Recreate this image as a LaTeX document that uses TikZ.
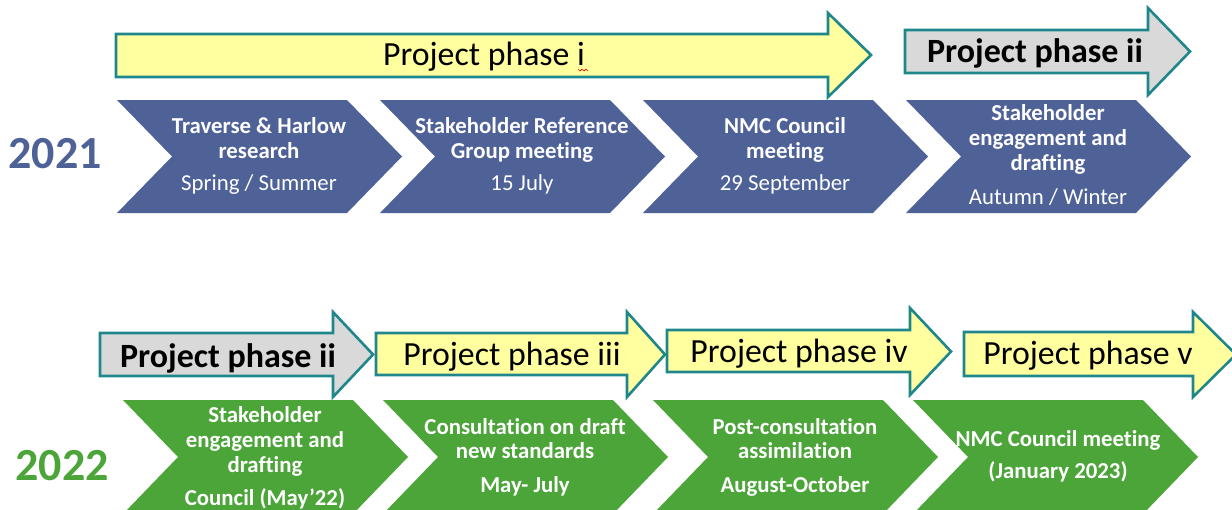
\documentclass[tikz,border=0pt]{standalone}
\usepackage{fontspec}
\setmainfont{Carlito}[Ligatures=NoCommon]
\definecolor{tealb}{RGB}{31,135,140}
\definecolor{yelf}{RGB}{255,255,160}
\definecolor{grayf}{RGB}{217,217,217}
\definecolor{blueC}{RGB}{79,98,152}
\definecolor{greenC}{RGB}{76,165,57}
\newcommand{\mychev}[4]{\fill[#4] (#1,#2) -- (#1+230,#2) -- (#1+285,{(#2+#3)/2}) -- (#1+230,#3) -- (#1,#3) -- (#1+55,{(#2+#3)/2}) -- cycle;}
\newcommand{\myarrow}[8]{\draw[phasebox, fill=#8] (#1,#2) -- (#4,#2) -- (#4,#5) -- (#7,{(#5+#6)/2}) -- (#4,#6) -- (#4,#3) -- (#1,#3) -- cycle;}
\begin{document}
\begin{tikzpicture}[x=1pt,y=-1pt,
  phasebox/.style={draw=tealb, line width=2.6pt, line join=miter},
  ctext/.style={text=white, font=\fontsize{22.8}{26}\selectfont\bfseries, anchor=base, inner sep=0pt},
  cdate/.style={text=white, font=\fontsize{22.8}{26}\selectfont, anchor=base, inner sep=0pt},
  ptext/.style={font=\fontsize{33.8}{40}\selectfont, anchor=base, inner sep=0pt},
  pbold/.style={font=\fontsize{34}{40}\selectfont\bfseries, anchor=base, inner sep=0pt},
  yeartext/.style={font=\fontsize{46}{50}\selectfont\bfseries, anchor=base, inner sep=0pt}
]
\useasboundingbox (0,0) rectangle (1232,509);
% ---------- 2021 row ----------
\myarrow{116}{34}{77}{828}{13}{97}{871}{yelf}
\myarrow{905}{30}{73}{1148}{8}{95}{1190}{grayf}
\node[ptext] (p1) at (484,65) {Project phase i};
\draw[red, line width=0.7pt] (578,69) -- (580,71) -- (582,69) -- (584,71) -- (586,69) -- (588,71);
\node[pbold] (p2a) at (1035,62) {Project phase ii};

\mychev{117}{100}{213}{blueC}
\mychev{380}{100}{213}{blueC}
\mychev{643}{100}{213}{blueC}
\mychev{906}{100}{213}{blueC}

\node[yeartext, text=blueC] (y21) at (55,168) {2021};

\node[ctext] (c1a) at (259,133) {Traverse \& Harlow};
\node[ctext] (c1b) at (259,158) {research};
\node[cdate] (c1c) at (259,190) {Spring / Summer};

\node[ctext] (c2a) at (522,133) {Stakeholder Reference};
\node[ctext] (c2b) at (522,158) {Group meeting};
\node[cdate] (c2c) at (522,190) {15 July};

\node[ctext] (c3a) at (785,133) {NMC Council};
\node[ctext] (c3b) at (785,158) {meeting};
\node[cdate] (c3c) at (785,190) {29 September};

\node[ctext] (c4a) at (1048,120) {Stakeholder};
\node[ctext] (c4b) at (1048,145) {engagement and};
\node[ctext] (c4c) at (1048,170) {drafting};
\node[cdate] (c4d) at (1048,204) {Autumn / Winter};

% ---------- 2022 row ----------
\myarrow{100}{333}{376}{333}{312}{397}{373}{grayf}
\myarrow{376}{333}{375}{627}{312}{397}{665}{yelf}
\myarrow{667}{330}{372}{910}{308}{395}{951}{yelf}
\myarrow{964}{332}{376}{1193}{312}{397}{1236}{yelf}
\node[pbold] (p2b) at (228,367) {Project phase ii};
\node[ptext] (p3) at (512,365) {Project phase iii};
\node[ptext] (p4) at (799,362) {Project phase iv};
\node[ptext] (p5) at (1088,364) {Project phase v};

\mychev{123}{400}{514}{greenC}
\mychev{383}{400}{514}{greenC}
\mychev{653}{400}{514}{greenC}
\mychev{913}{400}{514}{greenC}

\node[yeartext, text=greenC] (y22) at (62,480) {2022};

\node[ctext] (g1a) at (265,422) {Stakeholder};
\node[ctext] (g1b) at (265,447) {engagement and};
\node[ctext] (g1c) at (265,472) {drafting};
\node[ctext] (g1d) at (265,505) {Council (May’22)};

\node[ctext] (g2a) at (525,434) {Consultation on draft};
\node[ctext] (g2b) at (525,458) {new standards};
\node[ctext] (g2c) at (525,492) {May- July};

\node[ctext] (g3a) at (795,434) {Post-consultation};
\node[ctext] (g3b) at (795,458) {assimilation};
\node[ctext] (g3c) at (795,492) {August-October};

\node[ctext] (g4a) at (1058,446) {NMC Council meeting};
\node[ctext] (g4b) at (1058,478) {(January 2023)};
\end{tikzpicture}
\end{document}
